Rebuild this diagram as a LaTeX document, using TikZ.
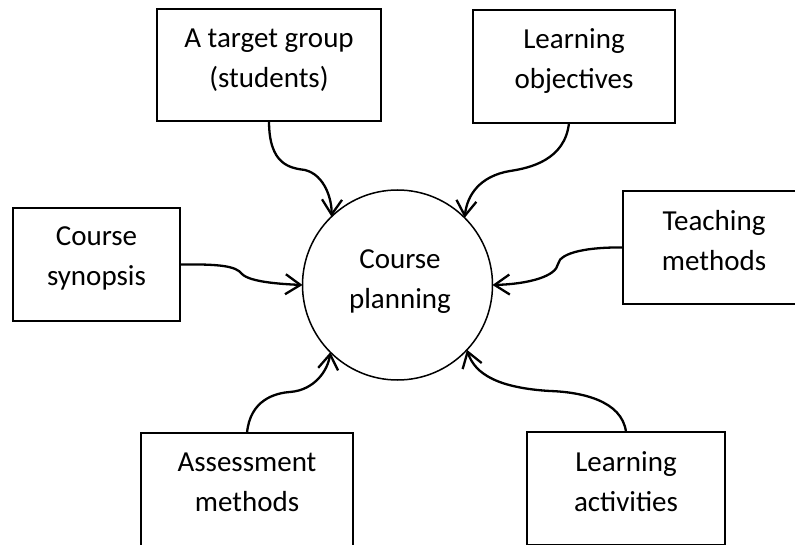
\documentclass[tikz,border=0pt]{standalone}
\usepackage{fontspec}
\setmainfont{Carlito}
\usetikzlibrary{arrows.meta}
\begin{document}
\begin{tikzpicture}[x=1pt,y=-1pt,
  boxnode/.style={draw=black,line width=1.3pt,rectangle,inner sep=0pt,outer sep=0pt},
  lbl/.style={align=center,inner sep=0pt,font=\fontsize{29}{40}\selectfont},
  conn/.style={line width=2.3pt,-{Straight Barb[length=15pt,width=20pt]}}]
\useasboundingbox (0,0) rectangle (795,545);
% boxes
\node[boxnode,minimum width=224pt,minimum height=112pt] (tg) at (269,65) {};
\node[boxnode,minimum width=202pt,minimum height=113pt] (lo) at (574,66.5) {};
\node[boxnode,minimum width=167pt,minimum height=113pt] (cs) at (96.5,264.5) {};
\node[boxnode,minimum width=182pt,minimum height=113pt] (tm) at (714,247.5) {};
\node[boxnode,minimum width=212pt,minimum height=113pt] (am) at (247,489.5) {};
\node[boxnode,minimum width=198pt,minimum height=113pt] (la) at (626,488.5) {};
% labels
\node[lbl] (tgl) at (269,60) {\strut A target group\\\strut (students)};
\node[lbl] (lol) at (574,61) {\strut Learning\\\strut objectives};
\node[lbl] (csl) at (96.5,258) {\strut Course\\\strut synopsis};
\node[lbl] (tml) at (714,243) {\strut Teaching\\\strut methods};
\node[lbl] (aml) at (247,483) {\strut Assessment\\\strut methods};
\node[lbl] (lal) at (626,483) {\strut Learning\\\strut activities};
% centre
\node[circle,draw=black,line width=1.5pt,minimum size=190pt,inner sep=0pt,outer sep=0pt] (cp) at (397.5,285) {};
\node[lbl] (cpl) at (400,281) {\strut Course\\\strut planning};
% connectors
\draw[conn] (tg.south) .. controls (269,165) and (290,168) .. (305,170)
  .. controls (325,175) and (332,200) .. (cp.134);
\draw[conn] ([xshift=-5pt]lo.south) .. controls (565,160) and (530,168) .. (510,171)
  .. controls (480,176) and (467,195) .. (cp.45);
\draw[conn] (cs.east) .. controls (220,264) and (236,266) .. (242,274)
  .. controls (250,282) and (280,284) .. (cp.180);
\draw[conn] (tm.west) .. controls (590,247) and (560,252) .. (558,264)
  .. controls (556,276) and (530,284) .. (cp.0);
\draw[conn] (am.north) .. controls (250,400) and (275,393) .. (290,392)
  .. controls (315,390) and (328,370) .. (cp.225);
\draw[conn] (la.north) .. controls (622,400) and (580,392) .. (550,391)
  .. controls (500,388) and (475,375) .. (cp.317);
\end{tikzpicture}
\end{document}
